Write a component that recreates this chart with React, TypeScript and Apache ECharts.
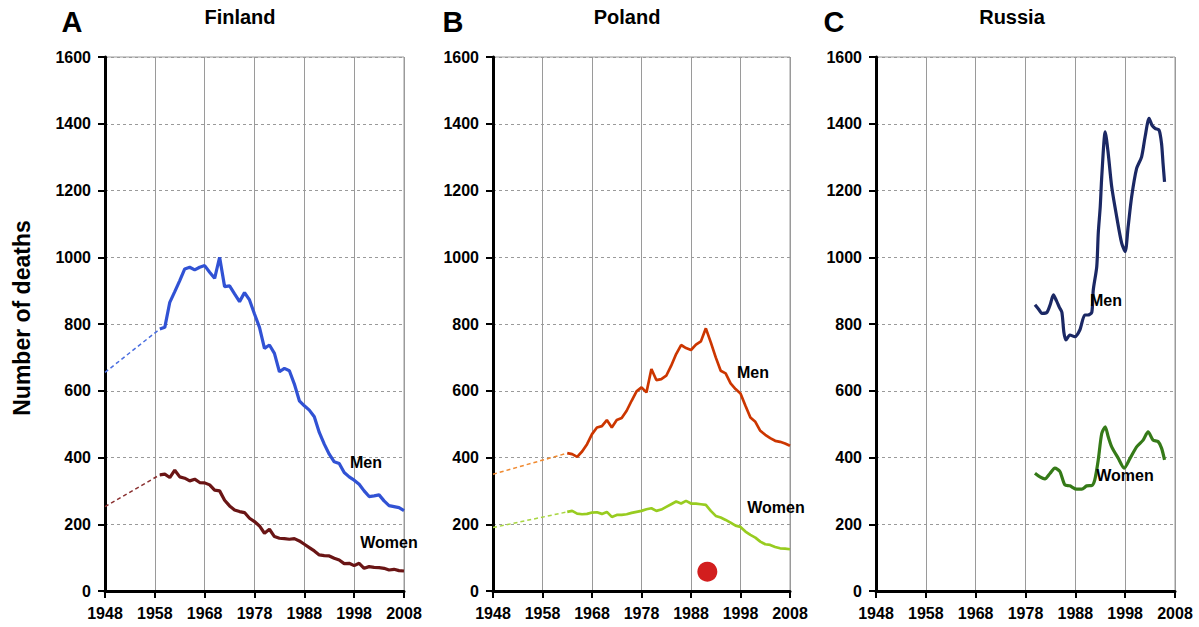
import React, { useEffect, useRef } from "react";
import * as echarts from "echarts";

const BASE_YEAR = 1948;
const xTickYears = [1948, 1958, 1968, 1978, 1988, 1998, 2008];
const yTicks = [0, 200, 400, 600, 800, 1000, 1200, 1400, 1600];

// Finland
const fiYears = Array.from({ length: 50 }, (_, i) => 1959 + i);
const fiMen = [785, 790, 865, 897, 930, 965, 970, 962, 970, 975, 955, 937, 1000, 912, 914, 890, 867, 894, 872, 830,
  790, 727, 737, 712, 657, 667, 660, 620, 570, 555, 542, 522, 475, 440, 410, 387, 382, 355, 342, 332,
  320, 300, 283, 285, 288, 270, 256, 253, 250, 241];
const fiWomen = [348, 350, 340, 362, 342, 338, 330, 335, 325, 324, 318, 302, 300, 272, 255, 243, 238, 235, 218, 208,
  195, 173, 185, 163, 158, 157, 155, 157, 150, 140, 130, 120, 108, 106, 105, 98, 93, 82, 83, 76,
  83, 68, 73, 71, 70, 68, 63, 65, 61, 60];
const fiMenExtYears = [1948, 1959];
const fiMenExt = [655, 785];
const fiWomenExtYears = [1948, 1959];
const fiWomenExt = [253, 348];

// Poland
const plYears = Array.from({ length: 46 }, (_, i) => 1963 + i);
const plMen = [413, 410, 402, 418, 440, 470, 490, 494, 512, 490, 512, 518, 540, 570, 598, 610, 595, 665, 632, 635,
  645, 675, 710, 737, 728, 722, 738, 748, 787, 745, 700, 660, 652, 622, 605, 592, 555, 520, 507, 480,
  468, 458, 450, 447, 442, 435];
const plWomen = [237, 240, 232, 230, 231, 235, 236, 231, 237, 222, 228, 228, 230, 234, 237, 240, 245, 248, 240, 244,
  252, 260, 268, 262, 270, 262, 262, 260, 258, 240, 225, 220, 213, 205, 196, 192, 178, 168, 160, 148,
  140, 138, 132, 128, 127, 125];
const plMenExtYears = [1948, 1963];
const plMenExt = [350, 413];
const plWomenExtYears = [1948, 1963];
const plWomenExt = [190, 237];
const plMarkerYear = [1991.3];
const plMarkerValue = [58];

// Russia
const ruMenYears = [1979.9, 1980.6, 1981.3, 1982.3, 1983.0, 1983.6, 1984.2, 1984.8, 1985.3, 1985.7, 1986.1, 1986.9,
  1987.9, 1988.9, 1989.9, 1990.5, 1991.3, 1991.6, 1992.3, 1992.6, 1993.0, 1993.3, 1994.0, 1994.6, 1995.3,
  1996.3, 1997.3, 1998.0, 1998.6, 1999.3, 2000.3, 2001.3, 2002.0, 2002.8, 2003.4, 2004.0, 2004.8, 2005.3,
  2005.6, 2005.9];
const ruMen = [858, 845, 832, 835, 860, 887, 870, 850, 835, 775, 752, 767, 762, 782, 827, 827, 835, 902, 972, 1072,
  1152, 1241, 1376, 1311, 1211, 1121, 1042, 1017, 1092, 1181, 1266, 1301, 1361, 1416, 1395, 1386, 1381, 1341,
  1281, 1226];
const ruWomenYears = [1979.9, 1980.9, 1981.9, 1982.9, 1983.9, 1984.9, 1985.9, 1986.9, 1988.3, 1989.3, 1990.3, 1991.3,
  1991.9, 1992.6, 1993.3, 1994.0, 1994.6, 1995.3, 1996.6, 1997.8, 1999.0, 2000.3, 2001.6, 2002.6, 2003.6,
  2004.6, 2005.3, 2005.9];
const ruWomen = [353, 342, 336, 352, 368, 358, 318, 315, 305, 305, 315, 316, 333, 393, 472, 492, 462, 432, 398, 368,
  398, 432, 452, 477, 452, 448, 428, 393];

const pairs = (xs: number[], ys: number[]) => xs.map((x, i) => [x - BASE_YEAR, ys[i]]);

const FONT = "'Liberation Sans', Arial, sans-serif";

export default function App() {
  const ref = useRef<HTMLDivElement>(null);
  useEffect(() => {
    if (!ref.current) return;
    const chart = echarts.init(ref.current, null, { renderer: "svg" });
    const grids = [
      { left: 105, top: 57, width: 299, height: 534 },
      { left: 493, top: 57, width: 297, height: 534 },
      { left: 876, top: 57, width: 299, height: 534 },
    ].map((g) => ({ ...g, show: true, borderColor: "#9a9a9a", borderWidth: 1, backgroundColor: "transparent" }));

    const xAxes = [0, 1, 2].map((i) => ({
      type: "value",
      gridIndex: i,
      min: 0,
      max: xTickYears[xTickYears.length - 1] - BASE_YEAR,
      interval: 10,
      axisLine: { show: true, onZero: false, lineStyle: { color: "#000", width: 3 } },
      axisTick: { show: true, length: 7, lineStyle: { color: "#000", width: 2 } },
      axisLabel: {
        color: "#000", fontSize: 16, fontWeight: "bold", fontFamily: FONT, margin: 14,
        formatter: (v: number) => String(v + BASE_YEAR),
        showMinLabel: true, showMaxLabel: true,
      },
      splitLine: { show: true, lineStyle: { color: "#9a9a9a", width: 1, type: "solid" } },
    }));
    const yAxes = [0, 1, 2].map((i) => ({
      type: "value",
      gridIndex: i,
      min: yTicks[0],
      max: yTicks[yTicks.length - 1],
      interval: 200,
      axisLine: { show: true, onZero: false, lineStyle: { color: "#000", width: 3 } },
      axisTick: { show: true, length: 7, lineStyle: { color: "#000", width: 2 } },
      axisLabel: {
        color: "#000", fontSize: 16, fontWeight: "bold", fontFamily: FONT, margin: 14,
        formatter: (v: number) => String(v),
      },
      splitLine: { show: true, lineStyle: { color: "#9a9a9a", width: 1, type: [3, 3] } },
    }));

    const solid = (i: number, data: number[][], color: string, width = 3.2, smooth: number | boolean = false) => ({
      type: "line", xAxisIndex: i, yAxisIndex: i, data, showSymbol: false, symbol: "none", smooth,
      lineStyle: { color, width }, z: 3,
    });
    const dashed = (i: number, data: number[][], color: string) => ({
      type: "line", xAxisIndex: i, yAxisIndex: i, data, showSymbol: false, symbol: "none",
      lineStyle: { color, width: 1.5, type: [4, 3] }, z: 2,
    });

    const series: any[] = [
      dashed(0, pairs(fiMenExtYears, fiMenExt), "#4a6ee0"),
      dashed(0, pairs(fiWomenExtYears, fiWomenExt), "#8a3030"),
      solid(0, pairs(fiYears, fiMen), "#3152d4"),
      solid(0, pairs(fiYears, fiWomen), "#6a1515"),
      dashed(1, pairs(plMenExtYears, plMenExt), "#f08a30"),
      dashed(1, pairs(plWomenExtYears, plWomenExt), "#a8d640"),
      solid(1, pairs(plYears, plMen), "#cc3600", 2.7),
      solid(1, pairs(plYears, plWomen), "#98cc20", 2.7),
      {
        type: "scatter", xAxisIndex: 1, yAxisIndex: 1, data: pairs(plMarkerYear, plMarkerValue),
        symbol: "circle", symbolSize: 20, itemStyle: { color: "#d21e1e", opacity: 1 }, z: 4,
      },
      solid(2, pairs(ruMenYears, ruMen), "#1b2864", 3.2, 0.25),
      solid(2, pairs(ruWomenYears, ruWomen), "#357a18", 3.2, 0.25),
    ];

    const txt = (x: number, y: number, text: string, size: number, extra: any = {}) => ({
      type: "text", x, y, z: 10, ...extra,
      style: { text, fontSize: size, fontWeight: "bold", fontFamily: FONT, fill: "#000", align: "center", verticalAlign: "middle" },
    });

    chart.setOption({
      animation: false,
      backgroundColor: "#fff",
      grid: grids,
      xAxis: xAxes,
      yAxis: yAxes,
      series,
      graphic: [
        txt(72, 22, "A", 29),
        txt(453, 22, "B", 29),
        txt(834, 22, "C", 29),
        txt(240, 17, "Finland", 20),
        txt(627, 17, "Poland", 20),
        txt(1012, 17, "Russia", 20),
        txt(22, 318, "Number of deaths", 23, { rotation: Math.PI / 2 }),
        txt(366, 462, "Men", 16),
        txt(389, 542, "Women", 16),
        txt(753, 372, "Men", 16),
        txt(776, 507, "Women", 16),
        txt(1106, 300, "Men", 16),
        txt(1125, 475, "Women", 16),
      ],
    });
    return () => chart.dispose();
  }, []);
  return (
    <div
      ref={ref}
      style={{ position: "fixed", left: 0, top: 0, width: 1199, height: 627, background: "#fff" }}
    />
  );
}
